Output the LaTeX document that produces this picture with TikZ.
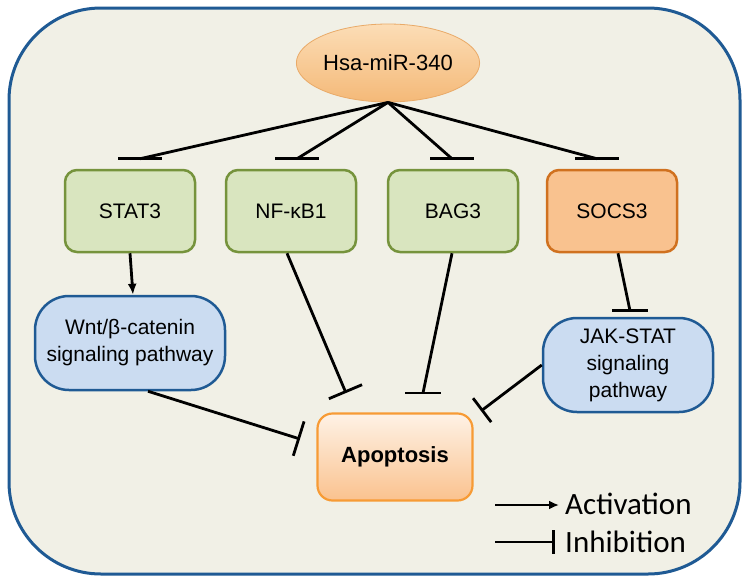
\documentclass[tikz,border=0pt]{standalone}
\usepackage{fontspec}
\setmainfont{Liberation Sans}
\newfontfamily\legendfont{Carlito}
\usetikzlibrary{arrows.meta,calc,shapes.geometric}
\definecolor{framefill}{HTML}{F1F0E6}
\definecolor{framedraw}{HTML}{1F5A94}
\definecolor{genefill}{HTML}{D9E5BF}
\definecolor{genedraw}{HTML}{76933C}
\definecolor{socsfill}{HTML}{F9C28F}
\definecolor{socsdraw}{HTML}{D0711F}
\definecolor{pathfill}{HTML}{CBDCF1}
\definecolor{pathdraw}{HTML}{1F5A94}
\definecolor{mirtop}{HTML}{FCDDB6}
\definecolor{mirbot}{HTML}{F4B978}
\definecolor{mirdraw}{HTML}{E9AA68}
\definecolor{apoptop}{HTML}{FEF2E6}
\definecolor{apopbot}{HTML}{FAC28E}
\definecolor{apopdraw}{HTML}{F79B35}
\begin{document}
\begin{tikzpicture}[x=1pt,y=-1pt,
  txt/.style={font=\fontsize{21}{27}\selectfont, align=center, text=black},
  gene/.style={txt, rectangle, rounded corners=12pt, draw=genedraw, fill=genefill,
    line width=2.5pt, minimum width=130pt, minimum height=82pt, inner sep=0pt},
  socs/.style={gene, draw=socsdraw, fill=socsfill},
  pathbox/.style={txt, rectangle, rounded corners=34pt, draw=pathdraw, fill=pathfill,
    line width=2.5pt, inner sep=0pt},
  conn/.style={line width=2.8pt, black},
  inh/.style={conn, -{Bar[width=36pt]}},
  act/.style={conn, -{Latex[length=11pt,width=9pt]}},
  hbar/.style={conn},
  legtxt/.style={font=\legendfont\fontsize{31}{31}\selectfont, anchor=base west, inner sep=0pt}
]
\useasboundingbox (0,0) rectangle (747,581);
\fill[white] (0,0) rectangle (747,581);
\draw[framedraw, fill=framefill, line width=3pt, rounded corners=92pt] (9,8) rectangle (740,574);

% nodes
\node[txt, ellipse, minimum width=183pt, minimum height=78pt, inner sep=0pt,
      top color=mirtop, bottom color=mirbot, draw=mirdraw, line width=0.8pt,
      font=\fontsize{22}{26}\selectfont] (mir) at (388,63) {Hsa-miR-340};
\node[gene] (stat3) at (130,211) {STAT3};
\node[gene] (nf) at (291,211) {NF-κB1};
\node[gene] (bag3) at (453,211) {BAG3};
\node[socs] (socs3) at (612,211) {SOCS3};
\node[pathbox, minimum width=190pt, minimum height=94pt] (wnt) at (130,343) {Wnt/β-catenin\\signaling pathway};
\node[pathbox, minimum width=170pt, minimum height=94pt] (jak) at (628,365) {JAK-STAT\\signaling\\pathway};
\node[txt, rectangle, rounded corners=15pt, minimum width=155pt, minimum height=87pt,
      top color=apoptop, bottom color=apopbot, draw=apopdraw, line width=2.2pt,
      font=\fontsize{22}{26}\selectfont\bfseries] (apop) at (395,457) {Apoptosis};

% inhibition ends
\coordinate (t1) at ($(stat3.north)+(10,-10)$);
\coordinate (t2) at ($(nf.north)+(6,-10)$);
\coordinate (t3) at ($(bag3.north)+(-1,-10)$);
\coordinate (t4) at ($(socs3.north)+(-15,-10)$);
\coordinate (j1) at ($(jak.north)+(2,-6)$);
\coordinate (a1) at (346,393);
\coordinate (a2) at (423,393);
\coordinate (a3) at (481,411);
\coordinate (a4) at (300,439);

% miR -> genes
\foreach \t in {t1,t2,t3,t4}{
  \draw[conn] (mir.south) -- (\t);
  \draw[hbar] ($(\t)+(-22,0)$) -- ($(\t)+(22,0)$);
}
% STAT3 -> Wnt
\draw[act] (stat3.south) -- ($(wnt.north)+(3,0)$);
% SOCS3 -| JAK
\draw[conn] ($(socs3.south)+(6,0)$) -- (j1);
\draw[hbar] ($(j1)+(-18,0)$) -- ($(j1)+(18,0)$);
% to apoptosis
\draw[inh] ($(nf.south)+(-4,0)$) -- (a1);
\draw[conn] ($(bag3.south)+(-1,0)$) -- (a2);
\draw[hbar] ($(a2)+(-18,0)$) -- ($(a2)+(18,0)$);
\draw[inh, -{Bar[width=30pt]}] (jak.west) -- (a3);
\draw[inh] ($(wnt.south)+(18,0)$) -- (a4);

% legend
\coordinate (la1) at (495,505);
\coordinate (la2) at (559,505);
\coordinate (li1) at (495,542);
\coordinate (li2) at (555,542);
\draw[act, -{Latex[length=10pt,width=9pt]}] (la1) -- (la2);
\draw[inh, -{Bar[width=24pt]}] (li1) -- (li2);
\node[legtxt] (lact) at (565,514) {Activation};
\node[legtxt] (linh) at (565,552) {Inhibition};
\end{tikzpicture}
\end{document}
